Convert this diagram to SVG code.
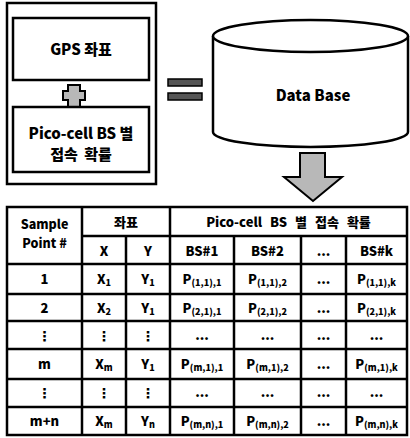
<svg xmlns="http://www.w3.org/2000/svg" width="410" height="438" viewBox="0 0 410 438">
<style>
.t{font-family:"Noto Sans CJK KR","Noto Sans",sans-serif;font-weight:900;fill:#000;text-anchor:middle;font-size:13px}
.b{fill:#fff;stroke:#000;stroke-width:2.5}
.g{fill:#b8b8b8;stroke:#000;stroke-width:2}
.tl{stroke:#000;stroke-width:2.5;fill:none}
.s{font-size:9px}
.L{font-size:15px}
.h{font-size:12.5px}
.d{font-family:"DejaVu Sans",sans-serif;font-weight:bold;font-size:14px;text-anchor:middle}
</style>
<rect width="410" height="438" fill="#fff"/>
<g id="input-box">
<rect class="b" x="7" y="3" width="149" height="181"/>
</g>
<g id="gps">
<rect class="b" x="13" y="18" width="136" height="62"/>
<text class="t L" x="81" y="55">GPS 좌표</text>
</g>
<g id="plus">
<path class="g" d="M68,85 H80 V91 H85 V100 H80 V107 H68 V100 H63 V91 H68 Z"/>
</g>
<g id="pico">
<rect class="b" x="13" y="107" width="136" height="65"/>
<text class="t L" x="81" y="139">Pico-cell BS 별</text>
<text class="t L" x="81" y="160" word-spacing="3">접속 확률</text>
</g>
<g id="equals">
<rect x="168" y="79" width="34" height="7" fill="#555" stroke="#000" stroke-width="1.5"/>
<rect x="168" y="93" width="34" height="7" fill="#555" stroke="#000" stroke-width="1.5"/>
</g>
<g id="database">
<path class="b" d="M213,36 V132 A97.5,15 0 0 0 408,132 V36"/>
<ellipse class="b" cx="310.5" cy="36" rx="97.5" ry="16"/>
<text class="t L" x="313" y="101">Data Base</text>
</g>
<g id="connectors">
<path class="g" d="M300,153 H325 V177 H342 L313,201 L284,177 H300 Z"/>
</g>
<g id="table">
<rect class="tl" x="7" y="207" width="400" height="228"/>
<path class="tl" d="M82,236 H407 M7,264 H407 M7,294 H407 M7,321 H407 M7,349 H407 M7,379 H407 M7,407 H407"/>
<path class="tl" d="M82,207 V435 M170,207 V435 M126,236 V435 M234,236 V435 M301,236 V435 M346,236 V435"/>
<text class="t h" x="44.5" y="229">Sample</text>
<text class="t h" x="44.5" y="248">Point #</text>
<text class="t" x="126" y="227">좌표</text>
<text class="t" x="288.5" y="227" word-spacing="5">Pico-cell BS 별 접속 확률</text>
<text class="t" x="104" y="256">X</text>
<text class="t" x="148" y="256">Y</text>
<text class="t" x="202" y="256">BS#1</text>
<text class="t" x="267.5" y="256">BS#2</text>
<text class="t" x="323.5" y="256">...</text>
<text class="t" x="376.5" y="256">BS#k</text>
<!-- row 1 -->
<text class="t" x="44.5" y="284">1</text>
<text class="t" x="104" y="284">X<tspan class="s" dy="2">1</tspan></text>
<text class="t" x="148" y="284">Y<tspan class="s" dy="2">1</tspan></text>
<text class="t" x="202" y="284">P<tspan class="s" dy="2">(1,1),1</tspan></text>
<text class="t" x="267.5" y="284">P<tspan class="s" dy="2">(1,1),2</tspan></text>
<text class="t" x="323.5" y="284">...</text>
<text class="t" x="376.5" y="284">P<tspan class="s" dy="2">(1,1),k</tspan></text>
<!-- row 2 -->
<text class="t" x="44.5" y="313">2</text>
<text class="t" x="104" y="313">X<tspan class="s" dy="2">2</tspan></text>
<text class="t" x="148" y="313">Y<tspan class="s" dy="2">1</tspan></text>
<text class="t" x="202" y="313">P<tspan class="s" dy="2">(2,1),1</tspan></text>
<text class="t" x="267.5" y="313">P<tspan class="s" dy="2">(2,1),2</tspan></text>
<text class="t" x="323.5" y="313">...</text>
<text class="t" x="376.5" y="313">P<tspan class="s" dy="2">(2,1),k</tspan></text>
<!-- row 3 -->
<text class="d" x="44.5" y="341">⋮</text>
<text class="d" x="104" y="341">⋮</text>
<text class="d" x="148" y="341">⋮</text>
<text class="t" x="202" y="340">...</text>
<text class="t" x="267.5" y="340">...</text>
<text class="t" x="323.5" y="340">...</text>
<text class="t" x="376.5" y="340">...</text>
<!-- row m -->
<text class="t" x="44.5" y="369">m</text>
<text class="t" x="104" y="369">X<tspan class="s" dy="2">m</tspan></text>
<text class="t" x="148" y="369">Y<tspan class="s" dy="2">1</tspan></text>
<text class="t" x="202" y="369">P<tspan class="s" dy="2">(m,1),1</tspan></text>
<text class="t" x="267.5" y="369">P<tspan class="s" dy="2">(m,1),2</tspan></text>
<text class="t" x="323.5" y="369">...</text>
<text class="t" x="376.5" y="369">P<tspan class="s" dy="2">(m,1),k</tspan></text>
<!-- row 5 -->
<text class="d" x="44.5" y="398">⋮</text>
<text class="d" x="104" y="398">⋮</text>
<text class="d" x="148" y="398">⋮</text>
<text class="t" x="202" y="397">...</text>
<text class="t" x="267.5" y="397">...</text>
<text class="t" x="323.5" y="397">...</text>
<text class="t" x="376.5" y="397">...</text>
<!-- row m+n -->
<text class="t" x="44.5" y="426">m+n</text>
<text class="t" x="104" y="426">X<tspan class="s" dy="2">m</tspan></text>
<text class="t" x="148" y="426">Y<tspan class="s" dy="2">n</tspan></text>
<text class="t" x="202" y="426">P<tspan class="s" dy="2">(m,n),1</tspan></text>
<text class="t" x="267.5" y="426">P<tspan class="s" dy="2">(m,n),2</tspan></text>
<text class="t" x="323.5" y="426">...</text>
<text class="t" x="376.5" y="426">P<tspan class="s" dy="2">(m,n),k</tspan></text>
</g>
</svg>
